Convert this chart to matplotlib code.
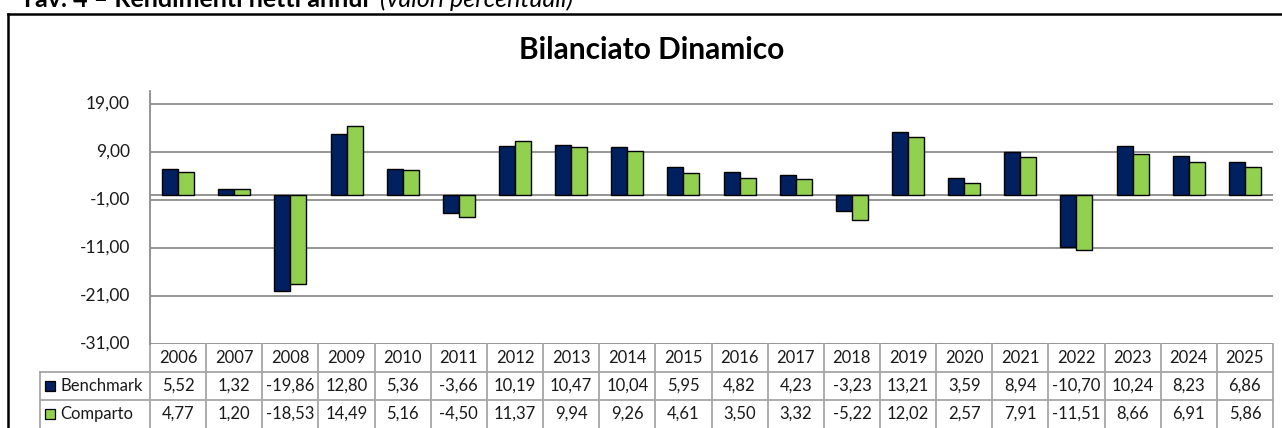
import numpy as np
import matplotlib
matplotlib.use("Agg")
import matplotlib.pyplot as plt
from matplotlib.lines import Line2D
from matplotlib.patches import Rectangle
import matplotlib.transforms as mtrans

plt.rcParams['font.family'] = ['Lato', 'DejaVu Sans']

years = [2006, 2007, 2008, 2009, 2010, 2011, 2012, 2013, 2014, 2015,
         2016, 2017, 2018, 2019, 2020, 2021, 2022, 2023, 2024, 2025]
benchmark = [5.52, 1.32, -19.86, 12.80, 5.36, -3.66, 10.19, 10.47, 10.04, 5.95,
             4.82, 4.23, -3.23, 13.21, 3.59, 8.94, -10.70, 10.24, 8.23, 6.86]
comparto = [4.77, 1.20, -18.53, 14.49, 5.16, -4.50, 11.37, 9.94, 9.26, 4.61,
            3.50, 3.32, -5.22, 12.02, 2.57, 7.91, -11.51, 8.66, 6.91, 5.86]
series_names = ['Benchmark', 'Comparto']
yticks = [-31, -21, -11, -1, 9, 19]

navy = '#002060'
green = '#92D050'
grid_c = '#8c8c8c'
tab_c = '#a6a6a6'
txt_c = '#1a1a1a'

W, H = 1282, 428
fig = plt.figure(figsize=(W / 100, H / 100), dpi=100)

def fx(px):
    return px / W

def fy(py):
    return 1 - py / H

def fmt(v):
    return ('%.2f' % v).replace('.', ',')

left, right, top, bottom = 150, 1273, 91, 344
ax = fig.add_axes([fx(left), fy(bottom), fx(right - left), (bottom - top) / H])

x = np.arange(len(years))
bw = 0.285
ax.bar(x - bw / 2, benchmark, bw, color=navy, edgecolor='black', linewidth=1, zorder=3)
ax.bar(x + bw / 2, comparto, bw, color=green, edgecolor='black', linewidth=1, zorder=3)

ax.set_xlim(-0.5, len(years) - 0.5)
ax.set_ylim(-31, 21.7)
ax.set_yticks(yticks)
ax.set_yticklabels([])
ax.tick_params(axis='both', length=0, labelbottom=False, labelleft=False)
ytr = mtrans.blended_transform_factory(fig.transFigure, ax.transData)
for v in yticks:
    ax.axhline(v, color=grid_c, linewidth=1.3, zorder=1)
    fig.text(fx(130), v, fmt(v), transform=ytr, ha='right', va='center',
             fontsize=12.5, color=txt_c)
ax.axhline(0, color=grid_c, linewidth=1.3, zorder=2)
for s in ['top', 'right', 'bottom']:
    ax.spines[s].set_visible(False)
ax.spines['left'].set_color(grid_c)
ax.spines['left'].set_linewidth(1.3)

# data table under the plot
tr = mtrans.blended_transform_factory(ax.transData, ax.transAxes)
rh = 28 / (bottom - top)
x_leg = -0.5 - (left - 40) / ((right - left) / len(years))
n = len(years)
for k in [1, 2]:
    ax.add_line(Line2D([x_leg, n - 0.5], [-k * rh, -k * rh], transform=tr,
                       color=tab_c, linewidth=1.3, clip_on=False))
for i in range(n + 1):
    ax.add_line(Line2D([i - 0.5, i - 0.5], [0, -3.2 * rh], transform=tr,
                       color=tab_c, linewidth=1.3, clip_on=False))
ax.add_line(Line2D([x_leg, x_leg], [-rh, -3.2 * rh], transform=tr,
                   color=tab_c, linewidth=1.3, clip_on=False))

for i, yr in enumerate(years):
    ax.text(i, -0.5 * rh, str(yr), transform=tr, ha='center', va='center',
            fontsize=12, color=txt_c)
    ax.text(i, -1.5 * rh, fmt(benchmark[i]), transform=tr,
            ha='center', va='center', fontsize=12, color=txt_c)
    ax.text(i, -2.5 * rh, fmt(comparto[i]), transform=tr,
            ha='center', va='center', fontsize=12, color=txt_c)

# legend keys inside the table
for k, (name, col) in enumerate(zip(series_names, [navy, green])):
    yc = 372 + 28 * k + 14
    fig.patches.append(Rectangle((fx(45), fy(yc + 5)), fx(10), 10 / H, transform=fig.transFigure,
                                 facecolor=col, edgecolor='black', linewidth=0.9))
    fig.text(fx(60), fy(yc), name, ha='left', va='center', fontsize=12, color=txt_c)

# title
fig.text(fx(652), fy(50), 'Bilanciato Dinamico', ha='center', va='center',
         fontsize=21.5, fontweight='bold', color='black')

# heading, its upper part falls outside the image
fig.text(fx(20), fy(7), 'Tav. 4 \u2013 Rendimenti netti annui', ha='left', va='baseline',
         fontsize=18, fontweight='bold')
fig.text(fx(380), fy(7), '(valori percentuali)', ha='left', va='baseline',
         fontsize=18, fontstyle='italic')

# chart frame
fig.add_artist(Line2D([fx(8), fx(8)], [fy(13.5), 0], transform=fig.transFigure,
                      color='black', linewidth=1.8))
fig.add_artist(Line2D([fx(8), 1], [fy(13.5), fy(13.5)], transform=fig.transFigure,
                      color='black', linewidth=1.8))

fig.savefig('out.png', dpi=100)
